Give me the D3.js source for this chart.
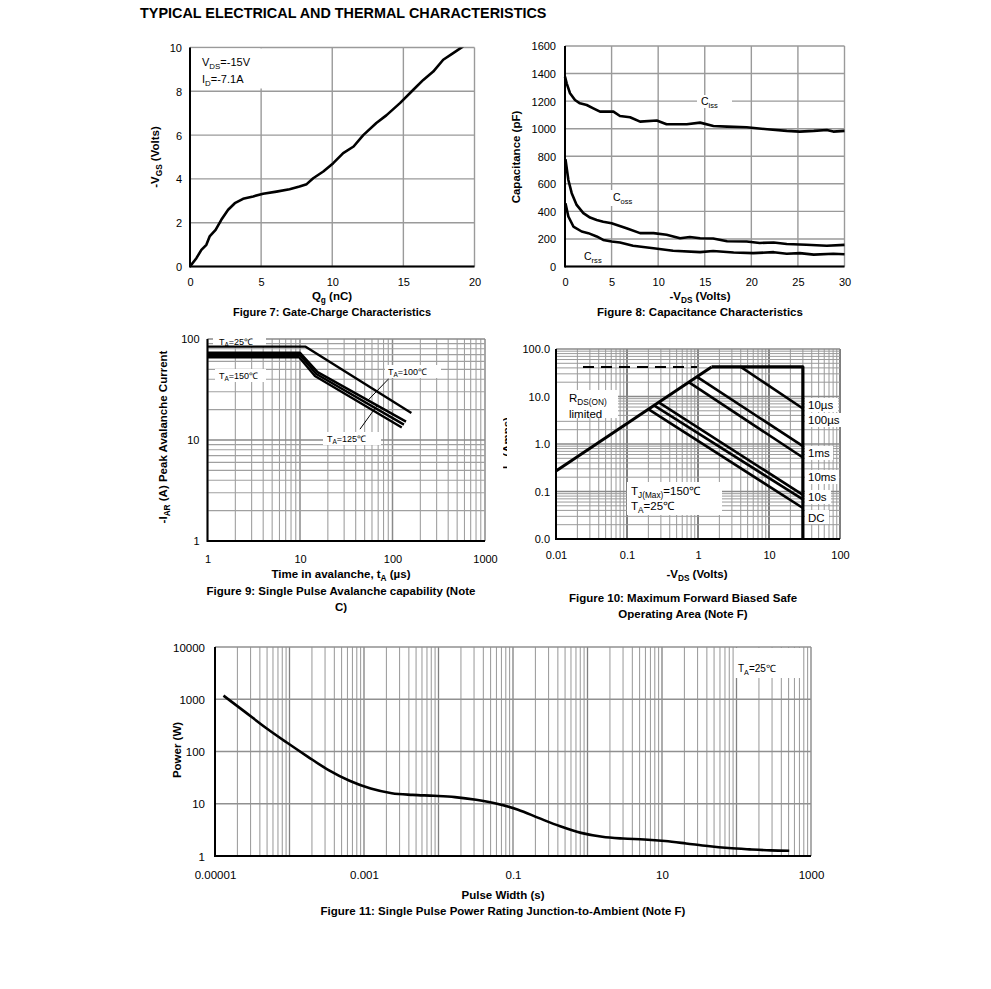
<!DOCTYPE html>
<html>
<head>
<meta charset="utf-8">
<script src="https://cdn.jsdelivr.net/npm/d3@7"></script>
<style>
  body { margin: 0; background: #fff; }
  svg { display: block; }
  text { font-family: "Liberation Sans", Arial, sans-serif; }
</style>
</head>
<body>
<div id="container"></div>
<script>
// ---- Figure 7: gate charge, [Qg (nC), -VGS (V)]
const gateCharge = [[0,0],[0.45,0.38],[0.8,0.76],[1.15,0.99],[1.38,1.37],[1.8,1.67],[2.2,2.13],[2.68,2.59],
  [3.15,2.89],[3.73,3.09],[4.44,3.2],[5.14,3.32],[6.08,3.42],[7.0,3.53],[7.7,3.65],[8.2,3.76],[8.66,4.03],
  [9.37,4.34],[10.07,4.72],[10.77,5.18],[11.5,5.48],[12.18,6.0],[13.1,6.55],[13.8,6.9],[14.76,7.46],
  [15.7,8.07],[16.4,8.52],[17.1,8.9],[17.8,9.44],[18.5,9.74],[19.2,10.05]];
const gateXTicks = [0, 5, 10, 15, 20];
const gateYTicks = [0, 2, 4, 6, 8, 10];

// ---- Figure 8: capacitance, [-VDS (V), C (pF)]
const ciss = [[0,1378],[0.18,1329],[0.54,1257],[1.07,1208],[1.6,1184],[2.33,1172],[3.04,1148],[3.76,1124],
  [4.47,1124],[5.2,1124],[5.9,1092],[6.98,1083],[8.06,1051],[9.85,1059],[10.9,1032],[13.07,1032],[14.5,1044],
  [15.93,1020],[17.4,1015],[19.5,1010],[21.7,996],[23.8,984],[25.2,979],[26.7,984],[28.1,991],[28.8,979],[30,984]];
const coss = [[0.05,778],[0.36,628],[0.72,532],[1.25,447],[1.97,387],[2.69,355],[3.4,338],[4.1,325],[5,314],
  [6.6,278],[8.06,242],[9.5,242],[10.9,230],[12.35,205],[13.4,214],[14.5,205],[15.9,203],[17.4,183],[19.5,181],
  [20.9,171],[22.4,174],[23.8,163],[25.9,158],[28.1,151],[30,157]];
const crss = [[0.05,459],[0.36,363],[0.9,290],[1.79,254],[2.5,242],[3.4,218],[4.1,193],[5,181],[5.9,174],
  [7.3,150],[9.5,133],[11.6,114],[14.5,104],[15.9,112],[18.1,102],[20.2,97],[22.4,104],[23.8,92],[25.2,97],
  [26.7,86],[28.8,92],[30,89]];
const capXTicks = [0, 5, 10, 15, 20, 25, 30];
const capYTicks = [0, 200, 400, 600, 800, 1000, 1200, 1400, 1600];

// ---- Figure 9: avalanche, [tA (us), -IAR (A)]
const aval25  = [[1,84],[11.5,84],[160,18.5]];
const aval100 = [[1,73],[10,73],[15.5,47],[140,15.2]];
const aval125 = [[1,69.5],[10,69.5],[15,45],[133,14.2]];
const aval150 = [[1,66],[9.8,66],[14.5,43],[126,13.3]];
const avalPointer100 = [[90,40],[54.7,24.9]];
const avalPointer125 = [[44.5,12.8],[67.5,21.7]];
const avalXTicks = [1, 10, 100, 1000];
const avalYTicks = [1, 10, 100];

// ---- Figure 10: SOA, [-VDS (V), -ID (A)]
const soaRdsOn = [[0.01,0.27],[1.55,42]];
const soaDashed = [[0.024,42],[0.97,42]];
const soaLimit = [[1.55,42],[30,42],[30,0.01]];
const soa10us  = [[4,42],[30,5.6]];
const soa100us = [[0.97,26],[30,0.9]];
const soa1ms   = [[0.74,20],[30,0.52]];
const soa10ms  = [[0.28,7.5],[30,0.085]];
const soa10s   = [[0.24,6.5],[30,0.068]];
const soaDC    = [[0.2,5.4],[30,0.045]];
const soaXTicks = [0.01, 0.1, 1, 10, 100];
const soaXLabels = ["0.01", "0.1", "1", "10", "100"];
const soaYTicks = [0.01, 0.1, 1, 10, 100];
const soaYLabels = ["0.0", "0.1", "1.0", "10.0", "100.0"];

// ---- Figure 11: single pulse power, [pulse width (s), power (W)]
const pulsePower = [[1.3e-5,1175],[2.5e-5,580],[4.8e-5,285],[9.1e-5,150],[1.75e-4,80],[3.35e-4,44],
  [6.4e-4,27.5],[1.23e-3,19.5],[2.36e-3,15.9],[4.5e-3,14.8],[8.7e-3,14.2],[1.66e-2,13.4],[3.2e-2,11.9],
  [6.1e-2,10],[0.117,7.7],[0.224,5.3],[0.43,3.7],[0.82,2.77],[1.58,2.33],[3.0,2.16],[5.8,2.07],[11,1.93],
  [21,1.74],[41,1.55],[78,1.42],[150,1.34],[288,1.28],[510,1.26]];
const powerXTicks = [1e-5, 1e-3, 0.1, 10, 1000];
const powerXLabels = ["0.00001", "0.001", "0.1", "10", "1000"];
const powerYTicks = [1, 10, 100, 1000, 10000];

const FONT = '"Liberation Sans", Arial, sans-serif';
const TICK = 11, TITLE = 11.5, CAP = 11.5;
const svg = d3.select("#container").append("svg").attr("width", 991).attr("height", 989);

const isDecade = v => Math.abs(Math.log10(v) - Math.round(Math.log10(v))) < 1e-9;

// text made of normal and subscript parts: [[str, isSub], ...]
function rich(sel, parts, fs) {
  let prev = false;
  const s = fs * 0.3;
  parts.forEach(([t, sub]) => {
    const ts = sel.append("tspan").text(t).attr("font-size", sub ? fs * 0.72 : fs);
    if (sub && !prev) ts.attr("dy", s);
    if (!sub && prev) ts.attr("dy", -s);
    prev = sub;
  });
  return sel;
}

function label(g, x, y, parts, fs, opt = {}) {
  const t = g.append("text").attr("x", x).attr("y", y)
    .attr("font-size", fs).attr("font-weight", opt.bold ? "bold" : null)
    .attr("text-anchor", opt.anchor || "start");
  if (opt.rotate) t.attr("x", null).attr("y", null).attr("transform", `translate(${x},${y}) rotate(-90)`);
  return rich(t, parts, fs);
}

function whiteBox(g, x, y, w, h) {
  g.append("rect").attr("x", x).attr("y", y).attr("width", w).attr("height", h).attr("fill", "#fff");
}

function grid(g, x, y, xs, ys, style) {
  const [x0, x1] = x.range(), [y0, y1] = y.range();
  g.append("g").selectAll("line").data(xs).join("line")
    .attr("x1", d => x(d)).attr("x2", d => x(d)).attr("y1", y0).attr("y2", y1)
    .attr("stroke", d => style(d, "x")[0]).attr("stroke-width", d => style(d, "x")[1]);
  g.append("g").selectAll("line").data(ys).join("line")
    .attr("y1", d => y(d)).attr("y2", d => y(d)).attr("x1", x0).attr("x2", x1)
    .attr("stroke", d => style(d, "y")[0]).attr("stroke-width", d => style(d, "y")[1]);
}

function frame(g, x, y) {
  const [x0, x1] = x.range(), [y0, y1] = y.range();
  g.append("line").attr("x1", x0).attr("x2", x1).attr("y1", y0).attr("y2", y0)
    .attr("stroke", "#000").attr("stroke-width", 2);
  g.append("line").attr("x1", x0).attr("x2", x0).attr("y1", y0 + 1).attr("y2", y1)
    .attr("stroke", "#000").attr("stroke-width", 2);
}

function axes(g, x, y, xt, xl, yt, yl, fs, xBase, yRight) {
  const ax = g.append("g").attr("transform", `translate(0,${xBase})`)
    .call(d3.axisBottom(x).tickValues(xt).tickFormat((d, i) => xl[i]).tickSize(0).tickPadding(0));
  const ay = g.append("g").attr("transform", `translate(${yRight},0)`)
    .call(d3.axisLeft(y).tickValues(yt).tickFormat((d, i) => yl[i]).tickSize(0).tickPadding(0));
  [ax, ay].forEach(a => {
    a.select(".domain").remove();
    a.attr("font-family", FONT).attr("font-size", fs);
    a.selectAll("text").attr("fill", "#000");
  });
  ax.selectAll("text").attr("dy", null).attr("y", 0);
  ay.selectAll("text").attr("dy", "0.36em");
}

function curve(g, data, x, y, w, opt = {}) {
  const line = d3.line().x(d => x(d[0])).y(d => y(d[1]));
  if (opt.smooth) line.curve(d3.curveMonotoneX);
  const p = g.append("path").datum(data)
    .attr("d", line)
    .attr("fill", "none").attr("stroke", "#000").attr("stroke-width", w)
    .attr("stroke-linejoin", "round");
  if (opt.dash) p.attr("stroke-dasharray", opt.dash);
  if (opt.clip) p.attr("clip-path", opt.clip);
  return p;
}

// ---- title
svg.append("text").attr("x", 140).attr("y", 18).attr("font-size", 14.4).attr("font-weight", "bold")
  .text("TYPICAL ELECTRICAL AND THERMAL CHARACTERISTICS");

const linGrid = () => ["#9a9a9a", 1.4];

// ================= Figure 7
{
  const g = svg.append("g");
  const x = d3.scaleLinear([0, 20], [190, 474.5]);
  const y = d3.scaleLinear([0, 10], [266.5, 47.5]);
  grid(g, x, y, gateXTicks, gateYTicks, linGrid);
  whiteBox(g, 191, 48.5, 71, 40);
  svg.append("clipPath").attr("id", "clip7").append("rect")
    .attr("x", 190).attr("y", 47.5).attr("width", 285).attr("height", 220);
  curve(g, gateCharge, x, y, 2.6, { clip: "url(#clip7)" });
  frame(g, x, y);
  axes(g, x, y, gateXTicks, gateXTicks.map(String), gateYTicks, gateYTicks.map(String), TICK, 286, 182);
  label(g, 202, 66, [["V", 0], ["DS", 1], ["=-15V", 0]], 11);
  label(g, 202, 82.5, [["I", 0], ["D", 1], ["=-7.1A", 0]], 11);
  label(g, 332, 299.5, [["Q", 0], ["g", 1], [" (nC)", 0]], TITLE, { bold: true, anchor: "middle" });
  label(g, 332, 315.5, [["Figure 7: Gate-Charge Characteristics", 0]], 11, { bold: true, anchor: "middle" });
  label(g, 159, 157, [["-V", 0], ["GS", 1], [" (Volts)", 0]], TITLE, { bold: true, anchor: "middle", rotate: true });
}

// ================= Figure 8
{
  const g = svg.append("g");
  const x = d3.scaleLinear([0, 30], [565, 844.5]);
  const y = d3.scaleLinear([0, 1600], [266.5, 46]);
  grid(g, x, y, capXTicks, capYTicks, linGrid);
  whiteBox(g, 697, 95, 35, 13);
  whiteBox(g, 609, 190, 29, 16);
  whiteBox(g, 580, 251, 29, 13);
  curve(g, ciss, x, y, 2.6);
  curve(g, coss, x, y, 2.6);
  curve(g, crss, x, y, 2.6);
  frame(g, x, y);
  axes(g, x, y, capXTicks, capXTicks.map(String), capYTicks, capYTicks.map(String), TICK, 286, 556);
  label(g, 701, 105, [["C", 0], ["iss", 1]], 10.5);
  label(g, 613, 201, [["C", 0], ["oss", 1]], 10.5);
  label(g, 584, 259.5, [["C", 0], ["rss", 1]], 10.5);
  label(g, 700, 299.5, [["-V", 0], ["DS", 1], [" (Volts)", 0]], TITLE, { bold: true, anchor: "middle" });
  label(g, 700, 315.5, [["Figure 8: Capacitance Characteristics", 0]], CAP, { bold: true, anchor: "middle" });
  label(g, 520, 157, [["Capacitance (pF)", 0]], TITLE, { bold: true, anchor: "middle", rotate: true });
}

const logStyle = (minor, major, mw, Mw) => d => isDecade(d) ? [major, Mw] : [minor, mw];

// ================= Figure 9
{
  const g = svg.append("g");
  const x = d3.scaleLog([1, 1000], [207.5, 485]);
  const y = d3.scaleLog([1, 100], [541, 339]);
  grid(g, x, y, x.ticks(), y.ticks(), logStyle("#a0a0a0", "#8a8a8a", 1.1, 1.5));
  whiteBox(g, 213, 335, 53, 11);
  whiteBox(g, 215, 369, 51, 13);
  whiteBox(g, 385, 365, 56, 13);
  whiteBox(g, 323, 432, 58, 13);
  curve(g, aval25, x, y, 2.4);
  curve(g, aval100, x, y, 2.4);
  curve(g, aval125, x, y, 2.4);
  curve(g, aval150, x, y, 2.4);
  curve(g, avalPointer100, x, y, 1);
  curve(g, avalPointer125, x, y, 1);
  frame(g, x, y);
  axes(g, x, y, avalXTicks, avalXTicks.map(String), avalYTicks, avalYTicks.map(String), TICK, 563, 199.5);
  label(g, 219, 344.5, [["T", 0], ["A", 1], ["=25\u2103", 0]], 9);
  label(g, 219, 378.5, [["T", 0], ["A", 1], ["=150\u2103", 0]], 9);
  label(g, 388, 374.5, [["T", 0], ["A", 1], ["=100\u2103", 0]], 9);
  label(g, 327, 441.5, [["T", 0], ["A", 1], ["=125\u2103", 0]], 9);
  label(g, 341, 578, [["Time in avalanche, t", 0], ["A", 1], [" (\u00b5s)", 0]], TITLE, { bold: true, anchor: "middle" });
  label(g, 341, 594.5, [["Figure 9: Single Pulse Avalanche capability (Note", 0]], CAP, { bold: true, anchor: "middle" });
  label(g, 341, 610.5, [["C)", 0]], CAP, { bold: true, anchor: "middle" });
  label(g, 167, 437, [["-I", 0], ["AR", 1], [" (A) Peak Avalanche Current", 0]], TITLE, { bold: true, anchor: "middle", rotate: true });
}

// ================= Figure 10
{
  const g = svg.append("g");
  const x = d3.scaleLog([0.01, 100], [556, 840]);
  const y = d3.scaleLog([0.01, 100], [539, 349]);
  grid(g, x, y, x.ticks(), y.ticks(), (d, k) => isDecade(d) ? (k === "x" ? ["#000", 1] : ["#8a8a8a", 1.4]) : ["#9a9a9a", 1]);
  whiteBox(g, 557, 390, 61, 28);
  whiteBox(g, 627, 482, 95, 33);
  [[805, 398, 33], [805, 413, 36], [805, 446, 28], [805, 470, 34], [805, 490, 26], [805, 510, 24]]
    .forEach(([bx, by, bw]) => whiteBox(g, bx, by, bw, 14));
  curve(g, soaDashed, x, y, 2, { dash: "11,7" });
  curve(g, soaRdsOn, x, y, 3);
  curve(g, soaLimit, x, y, 3.2);
  [soa10us, soa100us, soa1ms, soa10ms, soa10s, soaDC].forEach(s => curve(g, s, x, y, 2.6));
  frame(g, x, y);
  axes(g, x, y, soaXTicks, soaXLabels, soaYTicks, soaYLabels, TICK, 559, 550);
  label(g, 569, 401.5, [["R", 0], ["DS(ON)", 1]], 11.5);
  label(g, 569, 418, [["limited", 0]], 11.5);
  label(g, 808, 408.5, [["10\u00b5s", 0]], 11.5);
  label(g, 808, 423.5, [["100\u00b5s", 0]], 11.5);
  label(g, 808, 456.5, [["1ms", 0]], 11.5);
  label(g, 808, 481, [["10ms", 0]], 11.5);
  label(g, 808, 501, [["10s", 0]], 11.5);
  label(g, 808, 521.5, [["DC", 0]], 11.5);
  label(g, 631, 494.5, [["T", 0], ["J(Max)", 1], ["=150\u2103", 0]], 11.5);
  label(g, 631, 510, [["T", 0], ["A", 1], ["=25\u2103", 0]], 11.5);
  label(g, 697, 577.5, [["-V", 0], ["DS", 1], [" (Volts)", 0]], TITLE, { bold: true, anchor: "middle" });
  label(g, 683, 602, [["Figure 10: Maximum Forward Biased Safe", 0]], CAP, { bold: true, anchor: "middle" });
  label(g, 683, 618, [["Operating Area (Note F)", 0]], CAP, { bold: true, anchor: "middle" });
  // y title is cut off at the panel edge in the original
  svg.append("clipPath").attr("id", "clip10").append("rect")
    .attr("x", 503).attr("y", 380).attr("width", 4).attr("height", 140);
  const cut = svg.append("g").attr("clip-path", "url(#clip10)");
  label(cut, 511, 445, [["-I", 0], ["D", 1], [" (Amps)", 0]], TITLE, { bold: true, anchor: "middle", rotate: true });
}

// ================= Figure 11
{
  const g = svg.append("g");
  const x = d3.scaleLog([1e-5, 1000], [215, 811]);
  const y = d3.scaleLog([1, 10000], [856, 647]);
  grid(g, x, y, x.ticks(), powerYTicks, (d, k) => k === "y" ? ["#909090", 1.5] : (isDecade(d) ? ["#808080", 1.3] : ["#a0a0a0", 1.1]));
  whiteBox(g, 735, 648, 65, 30);
  curve(g, pulsePower, x, y, 2.6, { smooth: true });
  frame(g, x, y);
  axes(g, x, y, powerXTicks, powerXLabels, powerYTicks, powerYTicks.map(String), 11.5, 879, 205);
  label(g, 738, 672, [["T", 0], ["A", 1], ["=25\u2103", 0]], 10);
  label(g, 503, 898.5, [["Pulse Width (s)", 0]], TITLE, { bold: true, anchor: "middle" });
  label(g, 503, 915, [["Figure 11: Single Pulse Power Rating Junction-to-Ambient (Note F)", 0]], CAP, { bold: true, anchor: "middle" });
  label(g, 181, 750, [["Power (W)", 0]], TITLE, { bold: true, anchor: "middle", rotate: true });
}
</script>
</body>
</html>
